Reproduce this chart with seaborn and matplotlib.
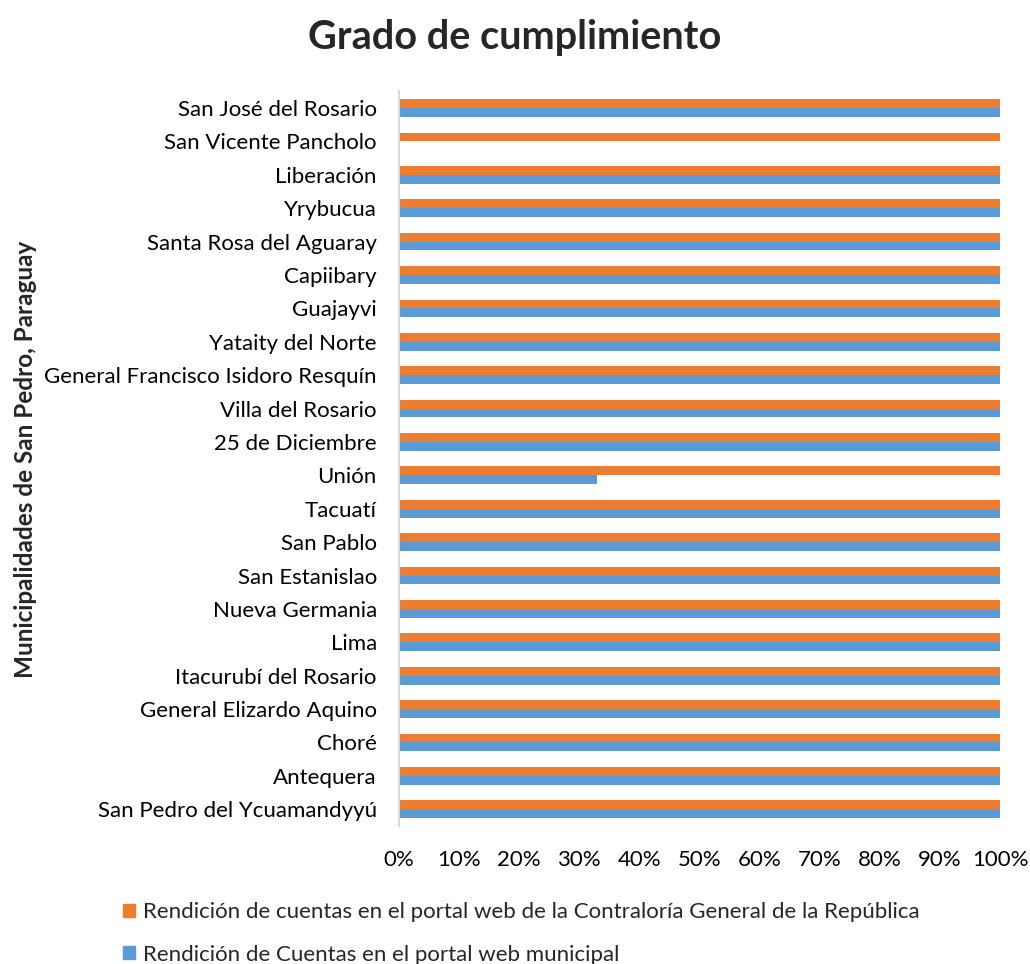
import matplotlib
matplotlib.use("Agg")
import matplotlib.pyplot as plt
import seaborn as sns
import pandas as pd
from matplotlib.patches import Patch
from matplotlib.ticker import PercentFormatter

municipios = [
    "San José del Rosario", "San Vicente Pancholo", "Liberación", "Yrybucua",
    "Santa Rosa del Aguaray", "Capiibary", "Guajayvi", "Yataity del Norte",
    "General Francisco Isidoro Resquín", "Villa del Rosario", "25 de Diciembre",
    "Unión", "Tacuatí", "San Pablo", "San Estanislao", "Nueva Germania", "Lima",
    "Itacurubí del Rosario", "General Elizardo Aquino", "Choré", "Antequera",
    "San Pedro del Ycuamandyyú",
]
serie_contraloria = "Rendición de cuentas en el portal web de la Contraloría General de la República"
serie_municipal = "Rendición de Cuentas en el portal web municipal"

contraloria = [1.0] * 22
municipal = [1.0, 0.0, 1.0, 1.0, 1.0, 1.0, 1.0, 1.0, 1.0, 1.0, 1.0,
             0.33, 1.0, 1.0, 1.0, 1.0, 1.0, 1.0, 1.0, 1.0, 1.0, 1.0]

colores = {serie_contraloria: "#ED7D31", serie_municipal: "#5B9BD5"}

df = pd.DataFrame({
    "municipio": municipios * 2,
    "serie": [serie_contraloria] * len(municipios) + [serie_municipal] * len(municipios),
    "valor": contraloria + municipal,
})

sns.set_style("white")
plt.rcParams["font.family"] = ["Lato", "DejaVu Sans"]

fig = plt.figure(figsize=(10.3, 9.64), dpi=100)
ax = fig.add_axes([0.3874, 0.1432, 0.5835, 0.7621])

sns.barplot(data=df, x="valor", y="municipio", hue="serie", orient="h",
            order=municipios, hue_order=[serie_contraloria, serie_municipal],
            palette=colores, width=0.53, saturation=1, ax=ax, legend=False,
            errorbar=None, edgecolor="none")

ax.set_xlim(0, 1)
ax.set_xticks([i / 10 for i in range(11)])
ax.xaxis.set_major_formatter(PercentFormatter(1.0, decimals=0))
ax.tick_params(axis="both", length=0, labelsize=16, colors="black")
ax.tick_params(axis="x", pad=17)
ax.tick_params(axis="y", pad=16)
ax.set_xlabel("")
ax.set_ylabel("")
for s in ["top", "right", "bottom"]:
    ax.spines[s].set_visible(False)
ax.spines["left"].set_color("#D9D9D9")
ax.spines["left"].set_linewidth(1.5)

fig.text(0.4995, 0.9616, "Grado de cumplimiento", ha="center", va="center",
         fontsize=28.5, fontweight="bold")
fig.text(0.025, 0.523, "Municipalidades de San Pedro, Paraguay", rotation=90,
         ha="center", va="center", fontsize=17.5, fontweight="bold")

handles = [Patch(color=colores[serie_contraloria], label=serie_contraloria),
           Patch(color=colores[serie_municipal], label=serie_municipal)]
fig.legend(handles=handles, loc="upper left", bbox_to_anchor=(0.119, 0.064),
           frameon=False, fontsize=16, handlelength=0.55, handleheight=0.55,
           handletextpad=0.35, labelspacing=1.0, borderaxespad=0, borderpad=0)

fig.savefig("out.png", dpi=100)
